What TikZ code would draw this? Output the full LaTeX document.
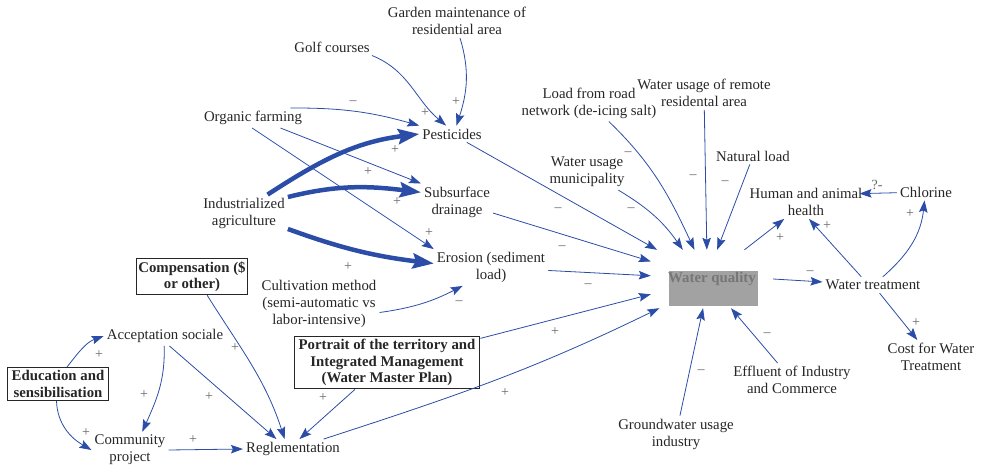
\documentclass[tikz,border=0pt]{standalone}
\usepackage{fontspec}
\setmainfont{Liberation Serif}
\usetikzlibrary{positioning,arrows.meta}

\definecolor{linkblue}{RGB}{43,77,168}
\definecolor{wqgray}{RGB}{162,162,162}
\definecolor{wqtext}{RGB}{118,118,118}

\begin{document}
\begin{tikzpicture}[x=1pt,y=1pt,
	% Define styles for variables, boxes, links and polarity signs
	var style/.style={align=center, inner sep=3pt, text=black!85, font=\fontsize{14.8}{17}\selectfont},
	box style/.style={var style, draw=black!85, line width=1.1pt, inner xsep=4.5pt, font=\fontsize{14.8}{16.5}\selectfont\bfseries},
	link style/.style={draw=linkblue, line width=0.8pt, -{Stealth[length=12pt,width=8.5pt,inset=2pt]}},
	strong link style/.style={draw=linkblue, line width=4.5pt, -{Stealth[length=21pt,width=15pt,inset=3pt]}},
	sign style/.style={inner sep=0pt, text=black!60, font=\fontsize{14}{14}\selectfont}
	]
	
	\useasboundingbox (0,0) rectangle (984,464);
	
	% --- Variables ---
	\node[var style] (garden) at (457,443) {Garden maintenance of\\residential area};
	\node[var style] (golf) at (332,417) {Golf courses};
	\node[var style] (organic) at (253,346) {Organic farming};
	\node[var style] (pest) at (452,330) {Pesticides};
	\node[var style] (indus) at (244,251) {Industrialized\\agriculture};
	\node[var style] (subsurf) at (457,262) {Subsurface\\drainage};
	\node[var style] (erosion) at (491,196.5) {Erosion (sediment\\load)};
	\node[var style] (cultiv) at (319,160) {Cultivation method\\(semi-automatic vs\\labor-intensive)};
	\node[var style] (road) at (589,361) {Load from road\\network (de-icing salt)};
	\node[var style] (remote) at (704,371) {Water usage of remote\\residental area};
	\node[var style] (natural) at (753,308) {Natural load};
	\node[var style] (muni) at (587,292) {Water usage\\municipality};
	\node[var style] (health) at (806,262) {Human and animal\\health};
	\node[var style] (chlor) at (926,272) {Chlorine};
	\node[var style] (treat) at (873,179) {Water treatment};
	\node[var style] (cost) at (931,107) {Cost for Water\\Treatment};
	\node[var style] (effl) at (792,84) {Effluent of Industry\\and Commerce};
	\node[var style] (ground) at (676,30) {Groundwater usage\\industry};
	\node[var style] (accept) at (165,128) {Acceptation sociale};
	\node[var style] (comm) at (130,14) {Community\\project};
	\node[var style] (regl) at (293,15) {Reglementation};
	
	% boxed levers
	\node[box style, inner xsep=2pt] (comp) at (192,187.5) {Compensation (\$\\or other)};
	\node[box style] (edu) at (58,80) {Education and\\sensibilisation};
	\node[box style] (portrait) at (387,101.5) {Portrait of the territory and\\Integrated Management\\(Water Master Plan)};
	
	% water quality: grey shading plus the variable itself
	\node[fill=wqgray, minimum width=89pt, minimum height=35pt, inner sep=0pt] (wqbox) at (713.5,175.5) {};
	\node[var style, minimum width=122pt, minimum height=58pt, text=wqtext, font=\fontsize{14.8}{17}\selectfont\bfseries] (wq) at (712,185) {Water quality};
	
	% --- Links towards pesticides, drainage and erosion ---
	\draw[link style] (garden.-80) to[out=-73,in=72] (pest.62);
	\draw[link style] (golf.-12) to[out=-22,in=140] (pest.125);
	\draw[link style] (organic.15) to[bend left=8] (pest.north west);
	\draw[link style] (organic.-20) -- (subsurf.north west);
	\draw[link style] (organic.-95) -- (erosion.north west);
	\draw[strong link style] (indus.38) to[out=33,in=187] (pest.west);
	\draw[strong link style] (indus.20) to[out=14,in=173] (subsurf.165);
	\draw[strong link style] (indus.-20) to[out=-20,in=173] (erosion.176);
	\draw[link style] (cultiv.-8) to[out=8,in=207] (erosion.213);
	
	% --- Links into water quality ---
	\draw[link style] (pest) -- (wq.152);
	\draw[link style] (subsurf) -- (wq.164);
	\draw[link style] (erosion) -- (wq.177);
	\draw[link style] (portrait) -- (wq.194);
	\draw[link style] (regl.18) to[out=18,in=206] (wq.209);
	\draw[link style] (muni.-30) to[out=-31,in=125] (wq.135);
	\draw[link style] (road.-43) to[out=-44,in=115] (wq.121);
	\draw[link style] (remote) -- (wq.100);
	\draw[link style] (natural) -- (wq.80);
	\draw[link style] (ground) -- (wq.253);
	\draw[link style] (effl) -- (wq.-57);
	
	% --- Links out of water quality ---
	\draw[link style] (wq.42) -- (health);
	\draw[link style] (wq.east) -- (treat);
	\draw[link style] (treat.145) -- (health.-80);
	\draw[link style] (treat.40) to[out=41,in=-96] (chlor.-100);
	\draw[link style] (chlor) -- ([xshift=-6pt]health.8);
	\draw[link style] (treat) -- (cost);
	
	% --- Social side ---
	\draw[link style] (edu.62) to[out=52,in=200] (accept.west);
	\draw[link style] (edu.-95) to[out=-88,in=150] (comm.west);
	\draw[link style] (accept.-95) to[out=-88,in=66] (comm.56);
	\draw[link style] (accept.-66) -- (regl.149);
	\draw[link style] (comp.-51) to[out=-58,in=108] (regl.130);
	\draw[link style] (comm.east) -- (regl.west);
	\draw[link style] (portrait.220) -- (regl.57);
	
	% --- Polarity signs ---
	\foreach \p [count=\i] in {(456,362),(425,351),(395,314),(368,292),(397,262),(429,231),(348,197),
		(555,132),(505,71),(780,226),(827,238),(910,250),(916,141),
		(99,109),(86,31),(144,69),(209,67),(235,116),(193,24),(323,66)}
		\node[sign style] (plus\i) at \p {+};
	\foreach \p [count=\i] in {(353,361),(558,254),(562,216),(588,178),(459,161),(628,310),
		(631,254),(693,287),(725,281),(810,191),(767,129),(701,92)}
		\node[sign style] (minus\i) at \p {--};
	\node[sign style] (unsure) at (877,279) {?-};
	
\end{tikzpicture}
\end{document}
